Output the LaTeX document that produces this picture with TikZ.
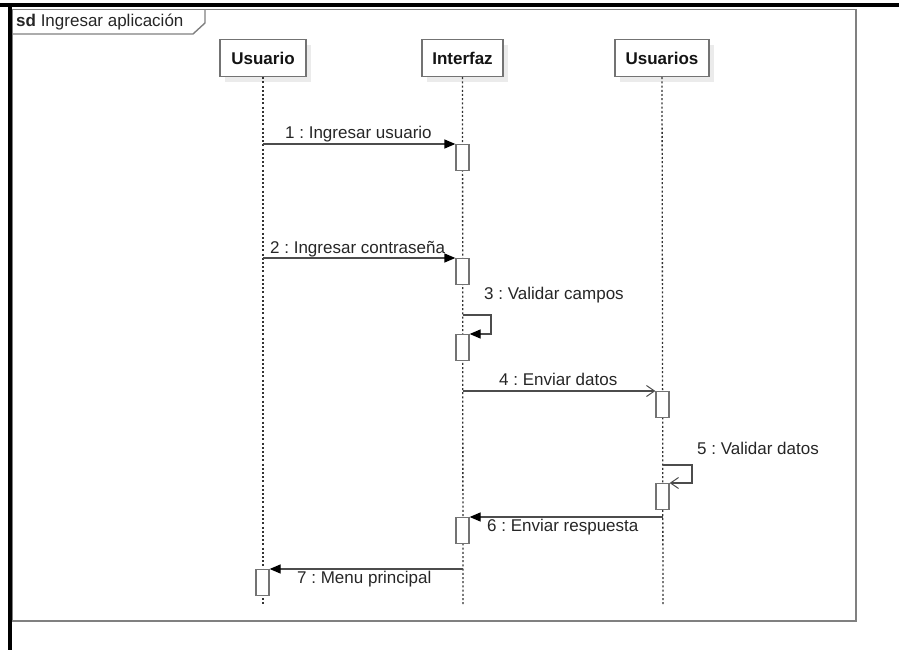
\documentclass[tikz,border=0pt]{standalone}
\usepackage{fontspec}
\setmainfont{Liberation Sans}
\usetikzlibrary{arrows.meta,shadows}
\frenchspacing
\begin{document}
\begin{tikzpicture}[x=1pt,y=-1pt,
  every node/.style={font=\fontsize{17}{20}\selectfont,text=black!85,inner sep=0pt},
  head/.style={draw=black!55,line width=1.4pt,fill=white,minimum height=37pt,
    font=\fontsize{17}{20}\selectfont\bfseries,text=black!92,
    drop shadow={shadow xshift=5pt,shadow yshift=-6pt,fill=black!8,opacity=1}},
  lifeline/.style={draw=black!80,line width=1.3pt,dash pattern=on 2pt off 2.2pt},
  act/.style={draw=black!55,line width=1.3pt,fill=white,minimum width=13pt,
    minimum height=26pt,anchor=north},
  msg/.style={draw=black!70,line width=1.3pt,
    -{Triangle[length=11pt,width=9pt,color=black]}},
  reply/.style={draw=black!70,line width=1.3pt,
    -{Straight Barb[length=8pt,width=11pt,line width=1pt]}},
  lbl/.style={anchor=base west},
  framebox/.style={draw=black!50,line width=1.8pt}
]
\useasboundingbox (0,0) rectangle (899,650);

% outer black edges
\fill[black] (0,3) rectangle (899,7);
\fill[black] (8,3) rectangle (11.5,650);

% interaction frame and its tab
\draw[framebox] (12.5,9.5) rectangle (856,621);
\draw[draw=black!50,line width=1.4pt] (12.5,34) -- (193,34) -- (205,23) -- (205,9.5);
\node[lbl] (title) at (16,27) {\textbf{sd} Ingresar aplicación};

% lifeline heads
\node[head,minimum width=86pt] (usr) at (263,58) {Usuario};
\node[head,minimum width=81pt] (ifz) at (462.5,58) {Interfaz};
\node[head,minimum width=94pt] (uss) at (662,58) {Usuarios};

\coordinate (usrEnd) at (263,605);
\coordinate (ifzEnd) at (463,605);
\coordinate (ussEnd) at (663,605);
\draw[lifeline] (usr.south) -- (usrEnd);
\draw[lifeline] (ifz.south) -- (ifzEnd);
\draw[lifeline] (uss.south) -- (ussEnd);

% activations
\node[act] (a1) at (462.5,144) {};
\node[act] (a2) at (462.5,258) {};
\node[act] (a3) at (462.5,334) {};
\node[act] (a4) at (662.5,391) {};
\node[act] (a5) at (662.5,483) {};
\node[act] (a6) at (462.5,517) {};
\node[act] (a7) at (262.5,569) {};

% message origins on the lifelines
\coordinate (s1) at (263,144);
\coordinate (s2) at (263,258);
\coordinate (s3) at (463,315);
\coordinate (s4) at (463,391);
\coordinate (s5) at (663,465);
\coordinate (s6) at (663,517);
\coordinate (s7) at (463,569);

% messages
\draw[msg] (s1) -- (a1.north west);
\node[lbl] (l1) at (285,139) {1 : Ingresar usuario};

\draw[msg] (s2) -- (a2.north west);
\node[lbl] (l2) at (270,253) {2 : Ingresar contraseña};

\draw[msg] (s3) -- (491,315) -- (491,334) -- (a3.north east);
\node[lbl] (l3) at (484,299) {3 : Validar campos};

\draw[reply] (s4) -- (a4.north west);
\node[lbl] (l4) at (499,385) {4 : Enviar datos};

\draw[reply] (s5) -- (692,465) -- (692,483) -- (a5.north east);
\node[lbl] (l5) at (697,454) {5 : Validar datos};

\draw[msg] (s6) -- (a6.north east);
\node[lbl] (l6) at (487,531) {6 : Enviar respuesta};

\draw[msg] (s7) -- (a7.north east);
\node[lbl] (l7) at (297,583) {7 : Menu principal};
\end{tikzpicture}
\end{document}
